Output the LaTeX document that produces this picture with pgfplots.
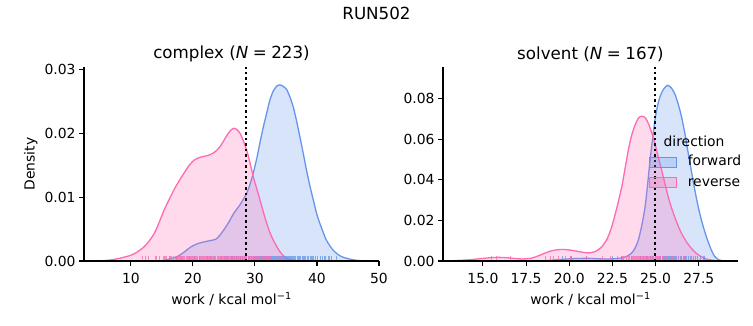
\documentclass[border=0pt]{standalone}
\usepackage{fontspec}
\setmainfont{DejaVu Sans}
\usepackage{pgfplots}
\pgfplotsset{compat=1.18}
\definecolor{cblue}{HTML}{6495ED}
\definecolor{cpink}{HTML}{FF69B4}
\newcommand{\fs}{\fontsize{13.9pt}{16pt}\selectfont}
\newcommand{\ft}{\fontsize{16.7pt}{20pt}\selectfont}
\pgfplotsset{
  mystyle/.style={
    scale only axis, width=295pt, height=194pt,
    axis lines*=left, axis line style={line width=1.1pt, -},
    tick align=outside, major tick length=4.9pt,
    tick style={line width=1.1pt, black},
    tick label style={font=\fs},
    xticklabel style={yshift=-4.2pt},
    label style={font=\fs},
    /pgf/number format/assume math mode=true,
    ymin=0, axis on top,
    xlabel={work / kcal mol\textsuperscript{−1}},
    xlabel style={at={(axis description cs:0.5,-0.196)}, anchor=center},
    title style={font=\ft, at={(axis description cs:0.5,1.036)}, anchor=center},
    scaled y ticks=false,
    yticklabel style={/pgf/number format/.cd, fixed, fixed zerofill, precision=2},
  },
  kde/.style={smooth, tension=0.4, draw=#1, fill=#1, fill opacity=0.25, line width=1.3pt},
  rug/.style={ycomb, draw=#1, draw opacity=0.75, line width=1.1pt, mark=none, forget plot},
  vdot/.style={black, line width=2.1pt, dash pattern=on 2.1pt off 3.4pt, forget plot},
}
\begin{document}
\begin{tikzpicture}
\useasboundingbox (0,0) rectangle (753pt,325pt);
\node[font=\ft] at (376.5pt,312pt) {RUN502};

\begin{axis}[mystyle, at={(84pt,64pt)}, anchor=south west,
  xmin=2.44, xmax=50, ymax=0.0304,
  xtick={10,20,30,40,50}, ytick={0,0.01,0.02,0.03},
  ylabel={Density},
  ylabel style={at={(axis description cs:-0.18,0.5)}, anchor=center},
  title={complex (\textit{N}\hspace{0.27em}=\hspace{0.27em}223)}]
\addplot[kde=cblue] coordinates {
(13.5,0) (15.36,0.0001) (16.5,0.0004) (17.5,0.0007) (18.6,0.0014) (19.65,0.0022) (20.7,0.0027) (21.8,0.0030) (22.8,0.0032) (23.67,0.0034) (24.3,0.0040) (25.0,0.0049) (25.8,0.0061) (26.6,0.0075) (27.58,0.0088) (28.66,0.0106) (29.2,0.0120) (29.73,0.0138) (30.3,0.0161) (30.8,0.0185) (31.35,0.0210) (31.9,0.0232) (32.4,0.0252) (32.94,0.0266) (33.5,0.0274) (34.0,0.0276) (34.5,0.0274) (35.1,0.0269) (35.6,0.0258) (36.16,0.0242) (36.7,0.0220) (37.24,0.0195) (37.8,0.0168) (38.3,0.0143) (38.85,0.0118) (39.4,0.0096) (39.9,0.0076) (40.46,0.0059) (41.0,0.0045) (41.5,0.0033) (42.0,0.0025) (42.6,0.0017) (43.4,0.0010) (44.2,0.0006) (45.3,0.0003) (46.4,0.0001) (48.0,0)
} \closedcycle;
\addplot[kde=cpink] coordinates {
(4.0,0) (5.5,0.00005) (7.0,0.0002) (8.5,0.0005) (10.0,0.0009) (11.0,0.0014) (12.1,0.0022) (13.0,0.0032) (13.75,0.0043) (14.5,0.0059) (15.36,0.0080) (16.2,0.0097) (16.97,0.0112) (17.8,0.0126) (18.58,0.0138) (19.4,0.0150) (20.19,0.0158) (21.0,0.0162) (21.8,0.0164) (22.6,0.0166) (23.4,0.0170) (24.0,0.0175) (24.5,0.0181) (25.0,0.0189) (25.55,0.0198) (26.1,0.0205) (26.6,0.0208) (27.1,0.0206) (27.6,0.0200) (28.1,0.0189) (28.66,0.0174) (29.2,0.0154) (29.73,0.0132) (30.3,0.0113) (30.8,0.0096) (31.35,0.0077) (31.9,0.0059) (32.4,0.0045) (32.94,0.0033) (33.5,0.0023) (34.0,0.0015) (34.6,0.0008) (35.1,0.0004) (35.7,0.0002) (36.5,0.00005) (37.2,0)
} \closedcycle;
\addplot[rug=cblue] coordinates {
(16.2,0.00076) (17.3,0.00076) (18.1,0.00076) (19.5,0.00076) (20.2,0.00076) (21.0,0.00076) (22.4,0.00076) (22.9,0.00076) (23.5,0.00076) (24.6,0.00076) (25.1,0.00076) (25.5,0.00076) (26.3,0.00076) (26.7,0.00076) (27.0,0.00076) (27.4,0.00076) (27.7,0.00076) (28.0,0.00076) (28.3,0.00076) (28.6,0.00076) (28.9,0.00076) (29.1,0.00076) (29.4,0.00076) (29.7,0.00076) (29.9,0.00076) (30.1,0.00076) (30.3,0.00076) (30.5,0.00076) (30.7,0.00076) (30.9,0.00076) (31.1,0.00076) (31.3,0.00076) (31.5,0.00076) (31.65,0.00076) (31.8,0.00076) (31.95,0.00076) (32.1,0.00076) (32.25,0.00076) (32.4,0.00076) (32.55,0.00076) (32.7,0.00076) (32.85,0.00076) (33.0,0.00076) (33.15,0.00076) (33.3,0.00076) (33.45,0.00076) (33.6,0.00076) (33.75,0.00076) (33.9,0.00076) (34.05,0.00076) (34.2,0.00076) (34.35,0.00076) (34.5,0.00076) (34.65,0.00076) (34.8,0.00076) (34.95,0.00076) (35.1,0.00076) (35.25,0.00076) (35.4,0.00076) (35.55,0.00076) (35.7,0.00076) (35.85,0.00076) (36.0,0.00076) (36.15,0.00076) (36.3,0.00076) (36.45,0.00076) (36.6,0.00076) (36.8,0.00076) (37.0,0.00076) (37.2,0.00076) (37.4,0.00076) (37.6,0.00076) (37.8,0.00076) (38.0,0.00076) (38.2,0.00076) (38.5,0.00076) (38.7,0.00076) (39.0,0.00076) (39.2,0.00076) (39.5,0.00076) (39.8,0.00076) (40.1,0.00076) (40.5,0.00076) (40.9,0.00076) (41.3,0.00076) (41.9,0.00076) (42.0,0.00076) (42.4,0.00076) (43.1,0.00076)
};
\addplot[rug=cpink] coordinates {
(11.8,0.00076) (12.4,0.00076) (12.9,0.00076) (13.9,0.00076) (14.2,0.00076) (14.6,0.00076) (15.2,0.00076) (15.5,0.00076) (15.8,0.00076) (16.3,0.00076) (16.6,0.00076) (16.9,0.00076) (17.2,0.00076) (17.4,0.00076) (17.6,0.00076) (17.9,0.00076) (18.0,0.00076) (18.3,0.00076) (18.5,0.00076) (18.7,0.00076) (18.9,0.00076) (19.0,0.00076) (19.2,0.00076) (19.4,0.00076) (19.6,0.00076) (19.7,0.00076) (19.9,0.00076) (20.1,0.00076) (20.3,0.00076) (20.4,0.00076) (20.6,0.00076) (20.8,0.00076) (21.0,0.00076) (21.1,0.00076) (21.3,0.00076) (21.5,0.00076) (21.7,0.00076) (21.9,0.00076) (22.0,0.00076) (22.2,0.00076) (22.4,0.00076) (22.6,0.00076) (22.8,0.00076) (23.0,0.00076) (23.1,0.00076) (23.3,0.00076) (23.5,0.00076) (23.7,0.00076) (23.9,0.00076) (24.0,0.00076) (24.2,0.00076) (24.3,0.00076) (24.5,0.00076) (24.6,0.00076) (24.8,0.00076) (24.9,0.00076) (25.0,0.00076) (25.1,0.00076) (25.3,0.00076) (25.4,0.00076) (25.5,0.00076) (25.6,0.00076) (25.8,0.00076) (25.9,0.00076) (26.0,0.00076) (26.1,0.00076) (26.2,0.00076) (26.3,0.00076) (26.5,0.00076) (26.6,0.00076) (26.7,0.00076) (26.8,0.00076) (26.9,0.00076) (27.0,0.00076) (27.2,0.00076) (27.3,0.00076) (27.4,0.00076) (27.5,0.00076) (27.7,0.00076) (27.8,0.00076) (28.0,0.00076) (28.1,0.00076) (28.3,0.00076) (28.4,0.00076) (28.6,0.00076) (28.7,0.00076) (29.0,0.00076) (29.2,0.00076) (29.4,0.00076) (29.6,0.00076) (29.8,0.00076) (30.0,0.00076) (30.2,0.00076) (30.5,0.00076) (30.7,0.00076) (31.0,0.00076) (31.2,0.00076) (31.5,0.00076) (31.8,0.00076) (32.1,0.00076) (32.5,0.00076) (33.0,0.00076) (33.3,0.00076) (34.2,0.00076)
};
\addplot[vdot] coordinates {(28.5,0) (28.5,0.0304)};
\end{axis}

\begin{axis}[mystyle, at={(443pt,64pt)}, anchor=south west,
  xmin=12.69, xmax=29.77, ymax=0.0955,
  xtick={15,17.5,20,22.5,25,27.5}, ytick={0,0.02,0.04,0.06,0.08},
  xticklabel style={/pgf/number format/.cd, fixed, fixed zerofill, precision=1},
  title={solvent (\textit{N}\hspace{0.27em}=\hspace{0.27em}167)},
  legend image code/.code={\draw[#1] (0pt,-5pt) rectangle (27pt,5pt);},
  legend style={at={(rel axis cs:0.696,0.544)}, anchor=north west, draw=none, fill=none,
    font=\fs, inner sep=0pt, row sep=7.5pt, column sep=11pt,
    nodes={inner sep=0pt, text height=10pt, text depth=3pt}},
  legend cell align=left]
\addplot[kde=cblue] coordinates {
(18.3,0) (19.0,0.0004) (19.56,0.0008) (20.3,0.0012) (21.1,0.0013) (21.6,0.0011) (22.1,0.0010) (22.6,0.0011) (23.04,0.0015) (23.35,0.0024) (23.6,0.0038) (23.8,0.0062) (24.0,0.0103) (24.2,0.0175) (24.39,0.0267) (24.54,0.0380) (24.68,0.0497) (24.82,0.0600) (24.96,0.0693) (25.1,0.0760) (25.25,0.0808) (25.45,0.0845) (25.69,0.0865) (25.9,0.0853) (26.1,0.0825) (26.3,0.0775) (26.5,0.0710) (26.7,0.0625) (26.89,0.0530) (27.08,0.0438) (27.27,0.0349) (27.46,0.0270) (27.65,0.0202) (27.85,0.0143) (28.04,0.0095) (28.22,0.0055) (28.4,0.0025) (28.6,0.0009) (28.8,0.0002) (29.0,0)
} \closedcycle;
\addlegendentry{forward}
\addplot[kde=cpink] coordinates {
(13.0,0) (13.6,0.0003) (14.2,0.0006) (14.8,0.0011) (15.4,0.0016) (15.9,0.0018) (16.4,0.0016) (16.9,0.0012) (17.3,0.0010) (17.8,0.0014) (18.2,0.0025) (18.8,0.0046) (19.2,0.0054) (19.56,0.0057) (19.95,0.0055) (20.33,0.0050) (20.7,0.0044) (21.1,0.0040) (21.5,0.0046) (21.88,0.0070) (22.2,0.0110) (22.46,0.0169) (22.75,0.0260) (23.04,0.0365) (23.23,0.0455) (23.42,0.0546) (23.6,0.0615) (23.81,0.0669) (24.0,0.0703) (24.19,0.0713) (24.4,0.0705) (24.58,0.0677) (24.77,0.0633) (24.96,0.0579) (25.15,0.0513) (25.35,0.0447) (25.54,0.0380) (25.73,0.0316) (25.92,0.0262) (26.1,0.0218) (26.3,0.0174) (26.5,0.0136) (26.78,0.0095) (27.07,0.0062) (27.35,0.0038) (27.65,0.0021) (27.9,0.0011) (28.2,0.0005) (28.6,0.0001) (29.0,0)
} \closedcycle;
\addlegendentry{reverse}
\addplot[rug=cblue] coordinates {
(19.6,0.0024) (20.1,0.0024) (21.0,0.0024) (22.5,0.0024) (23.0,0.0024) (23.6,0.0024) (24.1,0.0024) (24.3,0.0024) (24.5,0.0024) (24.7,0.0024) (24.8,0.0024) (24.9,0.0024) (25.0,0.0024) (25.1,0.0024) (25.2,0.0024) (25.25,0.0024) (25.3,0.0024) (25.4,0.0024) (25.45,0.0024) (25.5,0.0024) (25.55,0.0024) (25.6,0.0024) (25.65,0.0024) (25.7,0.0024) (25.75,0.0024) (25.8,0.0024) (25.85,0.0024) (25.9,0.0024) (25.95,0.0024) (26.0,0.0024) (26.05,0.0024) (26.1,0.0024) (26.15,0.0024) (26.2,0.0024) (26.3,0.0024) (26.35,0.0024) (26.45,0.0024) (26.5,0.0024) (26.6,0.0024) (26.7,0.0024) (26.8,0.0024) (26.9,0.0024) (27.0,0.0024) (27.1,0.0024) (27.2,0.0024) (27.3,0.0024) (27.45,0.0024) (27.6,0.0024) (27.8,0.0024)
};
\addplot[rug=cpink] coordinates {
(15.5,0.0024) (15.8,0.0024) (16.6,0.0024) (18.6,0.0024) (18.9,0.0024) (19.1,0.0024) (19.4,0.0024) (19.8,0.0024) (20.1,0.0024) (21.0,0.0024) (21.9,0.0024) (22.4,0.0024) (22.8,0.0024) (23.1,0.0024) (23.15,0.0024) (23.3,0.0024) (23.45,0.0024) (23.5,0.0024) (23.6,0.0024) (23.65,0.0024) (23.7,0.0024) (23.75,0.0024) (23.8,0.0024) (23.85,0.0024) (23.9,0.0024) (23.95,0.0024) (24.0,0.0024) (24.05,0.0024) (24.1,0.0024) (24.15,0.0024) (24.2,0.0024) (24.25,0.0024) (24.3,0.0024) (24.35,0.0024) (24.4,0.0024) (24.45,0.0024) (24.5,0.0024) (24.55,0.0024) (24.6,0.0024) (24.65,0.0024) (24.7,0.0024) (24.75,0.0024) (24.85,0.0024) (24.9,0.0024) (25.0,0.0024) (25.05,0.0024) (25.15,0.0024) (25.2,0.0024) (25.3,0.0024) (25.4,0.0024) (25.45,0.0024) (25.6,0.0024) (25.7,0.0024) (25.8,0.0024) (25.9,0.0024) (26.0,0.0024) (26.15,0.0024) (26.3,0.0024) (26.5,0.0024) (26.7,0.0024)
};
\addplot[vdot] coordinates {(24.95,0) (24.95,0.0955)};
\node[font=\fs] at (rel axis cs:0.851,0.619) {direction};
\end{axis}
\end{tikzpicture}
\end{document}
